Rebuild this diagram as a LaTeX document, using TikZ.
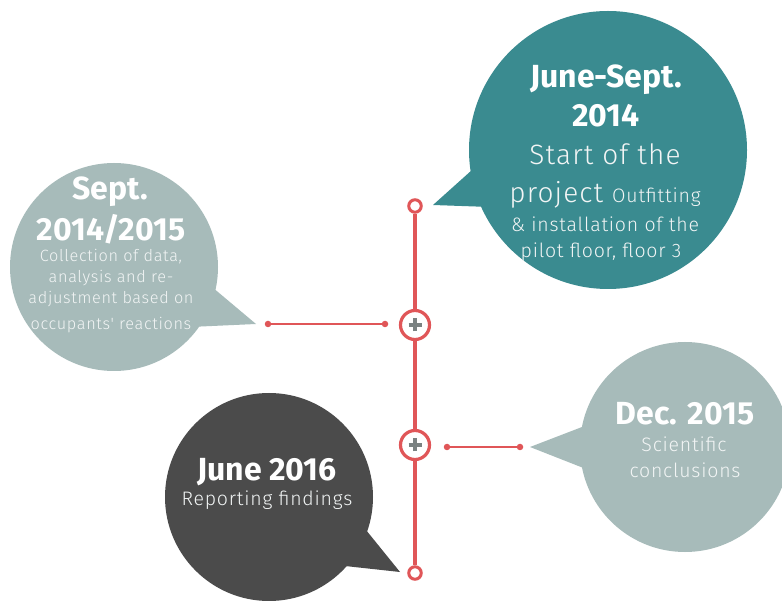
\documentclass[tikz,border=0pt]{standalone}
\usepackage{fontspec}
\setmainfont{Fira Sans}
\newfontfamily\lightf[LetterSpace=4]{Fira Sans Light}
\definecolor{tealb}{HTML}{3A8B90}
\definecolor{greyb}{HTML}{A7BBBA}
\definecolor{darkb}{HTML}{4B4B4B}
\definecolor{redl}{HTML}{E05658}
\definecolor{plusg}{HTML}{7A8282}
\definecolor{softw}{HTML}{F2F5F5}
\tikzset{
  bubble/.style={circle, inner sep=0pt, draw=none},
  hd/.style={anchor=base, inner sep=0pt, text=white, font=\fontsize{32}{36}\selectfont\bfseries},
  bigtx/.style={anchor=base, inner sep=0pt, text=softw, font=\lightf\fontsize{28}{32}\selectfont},
  smtx/.style={anchor=base, inner sep=0pt, text=softw, font=\lightf\fontsize{19.5}{22}\selectfont},
  lstx/.style={anchor=base, inner sep=0pt, text=softw, font=\lightf\fontsize{16.3}{20}\selectfont},
  endring/.style={circle, draw=redl, line width=3pt, fill=white, minimum size=12.5pt, inner sep=0pt},
  plusring/.style={circle, draw=redl, line width=3.2pt, fill=white, minimum size=29pt, inner sep=0pt},
  tl/.style={draw=redl, line width=3.2pt},
  conn/.style={draw=redl, line width=1.8pt},
  dotp/.style={circle, fill=redl, minimum size=6.5pt, inner sep=0pt},
  plusbar/.style={draw=plusg, line width=3.6pt},
}
\begin{document}
\begin{tikzpicture}[x=1pt,y=-1pt]
\useasboundingbox (0,0) rectangle (782,601);
\clip (0,0) rectangle (782,601);
\fill[white] (0,0) rectangle (782,601);

% bubbles
\node[bubble, fill=tealb, minimum size=278pt] (b1) at (608,150) {};
\coordinate (b1tip) at (433,205);
\fill[tealb] (b1tip) -- (472,170) -- (490,207) -- cycle;

\node[bubble, fill=greyb, minimum size=208pt] (b2) at (114,267) {};
\coordinate (b2tip) at (256,324);
\fill[greyb] (b2tip) -- (212,287) -- (190,327) -- cycle;

\node[bubble, fill=greyb, minimum size=210pt] (b3) at (685,447) {};
\coordinate (b3tip) at (530,447);
\fill[greyb] (b3tip) -- (582,427) -- (586,469) -- cycle;

\node[bubble, fill=darkb, minimum size=208pt] (b4) at (269,497) {};
\coordinate (b4tip) at (400,572);
\fill[darkb] (b4tip) -- (366,530) -- (345,566) -- cycle;

% timeline
\node[endring] (t1) at (415,206) {};
\node[plusring] (p1) at (415,325) {};
\node[plusring] (p2) at (415,445) {};
\node[endring] (t2) at (415,573) {};
\draw[tl] (t1) -- (p1);
\draw[tl] (p1) -- (p2);
\draw[tl] (p2) -- (t2);
\draw[plusbar] ([xshift=-6.5pt]p1.center) -- ([xshift=6.5pt]p1.center);
\draw[plusbar] ([yshift=-6.5pt]p1.center) -- ([yshift=6.5pt]p1.center);
\draw[plusbar] ([xshift=-6.5pt]p2.center) -- ([xshift=6.5pt]p2.center);
\draw[plusbar] ([yshift=-6.5pt]p2.center) -- ([yshift=6.5pt]p2.center);

% connectors
\node[dotp] (c1a) at (268,324) {};
\node[dotp] (c1b) at (385,324) {};
\draw[conn] (c1a) -- (c1b);
\node[dotp] (c2a) at (447,447) {};
\node[dotp] (c2b) at (520,447) {};
\draw[conn] (c2a) -- (c2b);

% teal texts
\node[hd] (a1) at (606,88) {June-Sept.};
\node[hd] (a2) at (606,127) {2014};
\node[bigtx] (a3) at (605,165) {Start of the};
\node[anchor=base, inner sep=0pt, text=softw] (a4) at (605,203) {\lightf\fontsize{28}{32}\selectfont project \fontsize{19.5}{22}\selectfont Outfitting};
\node[smtx] (a5) at (605,232) {\& installation of the};
\node[smtx] (a6) at (601,258) {pilot floor, floor 3};

% left texts
\node[hd] (l1) at (110,200) {Sept.};
\node[hd] (l2) at (111,241) {2014/2015};
\node[lstx] (l3) at (111,262) {Collection of data,};
\node[lstx] (l4) at (111,283) {analysis and re-};
\node[lstx] (l5) at (111,304) {adjustment based on};
\node[lstx] (l6) at (111,330) {occupants' reactions};

% right texts
\node[hd] (r1) at (685,425) {Dec. 2015};
\node[smtx] (r2) at (684,452) {Scientific};
\node[smtx] (r3) at (685,478) {conclusions};

% dark texts
\node[hd] (d1) at (267,480) {June 2016};
\node[smtx] (d2) at (267,505) {Reporting findings};
\end{tikzpicture}
\end{document}
